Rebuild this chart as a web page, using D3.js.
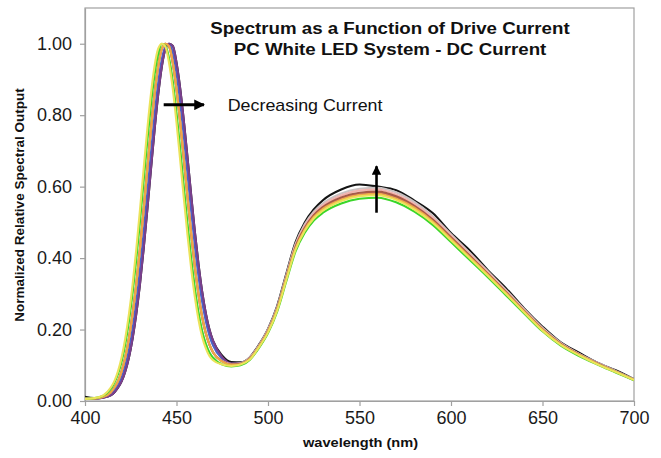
<!DOCTYPE html>
<html>
<head>
<meta charset="utf-8">
<script src="https://cdn.jsdelivr.net/npm/d3@7/dist/d3.min.js"></script>
<style>
  html, body { margin: 0; padding: 0; background: #fff; }
  svg { display: block; }
  text { font-family: "Liberation Sans", Arial, sans-serif; }
</style>
</head>
<body>
<svg id="chart" width="661" height="458"></svg>
<script>
// ---------------- DATA ----------------
const titleLines = ["Spectrum as a Function of Drive Current", "PC White LED System - DC Current"];
const xLabel = "wavelength (nm)";
const yLabel = "Normalized Relative Spectral Output";
const annotationText = "Decreasing Current";
const xTicks = [400, 450, 500, 550, 600, 650, 700];
const yTicks = [0, 0.2, 0.4, 0.6, 0.8, 1.0];

const wavelengths = [400,405,410,414,416,418,420,422,424,426,428,430,432,434,436,438,440,442,444,446,448,450,452,454,456,458,460,462,464,466,468,470,475,480,485,490,495,500,505,510,515,520,525,530,540,550,560,570,580,590,600,610,620,630,640,650,660,670,680,690,700];

const blackSeries = [0.012,0.008,0.010, 0.016,0.024,0.037,0.055,0.083,0.122,0.175,0.243,0.326,0.424,0.533,0.647,0.758,0.858,0.937,0.986,1.000,0.994,0.947,0.875,0.784,0.682,0.577,0.475,0.384,0.307,0.246,0.200,0.168, 0.127,0.109,0.108, 0.122,0.157,0.202,0.266,0.356,0.444,0.499,0.536,0.562,0.592,0.606,0.600,0.590,0.561,0.526,0.470,0.423,0.367,0.316,0.259,0.208,0.164,0.135,0.107,0.086,0.061];
const graySeries = [0.006,0.007,0.012, 0.024,0.037,0.055,0.083,0.122,0.175,0.243,0.326,0.424,0.533,0.647,0.758,0.858,0.937,0.986,1.000,0.992,0.946,0.873,0.781,0.678,0.572,0.470,0.377,0.299,0.236,0.190,0.158,0.136, 0.113,0.104,0.106, 0.121,0.155,0.200,0.263,0.352,0.439,0.494,0.530,0.553,0.581,0.594,0.597,0.584,0.557,0.518,0.467,0.416,0.364,0.311,0.257,0.205,0.163,0.132,0.107,0.084,0.061];
const blueSeries = [0.006,0.006,0.010, 0.019,0.029,0.044,0.066,0.099,0.143,0.202,0.276,0.365,0.468,0.579,0.691,0.798,0.890,0.957,0.992,1.000,0.975,0.917,0.837,0.742,0.638,0.534,0.436,0.350,0.278,0.224,0.183,0.155, 0.118,0.103,0.104, 0.117,0.151,0.194,0.255,0.342,0.426,0.479,0.515,0.538,0.564,0.577,0.580,0.567,0.541,0.503,0.454,0.404,0.354,0.302,0.250,0.199,0.158,0.129,0.104,0.082,0.059];
const purpleSeries = [0.006,0.006,0.009, 0.016,0.024,0.037,0.055,0.083,0.122,0.175,0.243,0.326,0.424,0.533,0.647,0.758,0.858,0.937,0.986,1.000,0.994,0.947,0.875,0.784,0.682,0.577,0.475,0.384,0.307,0.246,0.200,0.168, 0.123,0.105,0.105, 0.118,0.152,0.195,0.256,0.343,0.428,0.482,0.518,0.540,0.567,0.580,0.583,0.570,0.543,0.505,0.456,0.406,0.356,0.303,0.251,0.200,0.159,0.129,0.105,0.082,0.059];
const pinkSeries = [0.006,0.007,0.012, 0.024,0.037,0.055,0.083,0.122,0.175,0.243,0.326,0.424,0.533,0.647,0.758,0.858,0.937,0.986,1.000,0.992,0.946,0.873,0.781,0.678,0.572,0.470,0.377,0.299,0.236,0.190,0.158,0.136, 0.112,0.103,0.105, 0.120,0.154,0.198,0.260,0.348,0.435,0.489,0.525,0.548,0.575,0.589,0.592,0.578,0.551,0.513,0.463,0.412,0.361,0.308,0.255,0.203,0.161,0.131,0.106,0.083,0.060];
const siennaSeries = [0.006,0.007,0.012, 0.024,0.037,0.055,0.083,0.122,0.175,0.243,0.326,0.424,0.533,0.647,0.758,0.858,0.937,0.986,1.000,0.992,0.946,0.873,0.781,0.678,0.572,0.470,0.377,0.299,0.236,0.190,0.158,0.136, 0.111,0.102,0.104, 0.118,0.152,0.196,0.258,0.345,0.431,0.484,0.520,0.543,0.570,0.583,0.586,0.573,0.546,0.508,0.458,0.408,0.357,0.305,0.252,0.201,0.160,0.130,0.105,0.082,0.060];
const orangeSeries = [0.006,0.007,0.012, 0.024,0.037,0.055,0.083,0.122,0.175,0.243,0.326,0.424,0.533,0.647,0.758,0.858,0.937,0.986,1.000,0.992,0.946,0.873,0.781,0.678,0.572,0.470,0.377,0.299,0.236,0.190,0.158,0.136, 0.110,0.101,0.103, 0.117,0.151,0.194,0.255,0.342,0.426,0.479,0.515,0.538,0.564,0.577,0.580,0.567,0.541,0.503,0.454,0.404,0.354,0.302,0.250,0.199,0.158,0.129,0.104,0.082,0.059];
const yellowSeries = [0.006,0.008,0.016, 0.037,0.055,0.083,0.122,0.175,0.243,0.326,0.424,0.533,0.647,0.758,0.858,0.937,0.986,1.000,0.991,0.944,0.872,0.779,0.675,0.568,0.465,0.372,0.292,0.228,0.180,0.148,0.126,0.114, 0.102,0.098,0.102, 0.116,0.150,0.192,0.253,0.339,0.423,0.476,0.511,0.533,0.560,0.573,0.576,0.563,0.536,0.499,0.450,0.401,0.351,0.300,0.248,0.197,0.157,0.128,0.103,0.081,0.059];
const greenSeries = [0.006,0.008,0.015, 0.033,0.050,0.075,0.110,0.159,0.223,0.301,0.395,0.500,0.613,0.725,0.828,0.913,0.971,1.000,0.994,0.958,0.894,0.807,0.707,0.601,0.497,0.401,0.318,0.249,0.197,0.161,0.136,0.121, 0.102,0.097,0.100, 0.115,0.148,0.190,0.250,0.335,0.418,0.470,0.505,0.527,0.553,0.566,0.569,0.556,0.530,0.493,0.445,0.396,0.347,0.296,0.245,0.195,0.155,0.126,0.102,0.080,0.058];

// drawing order: first = bottom
const seriesNames = ["black", "gray", "blue", "purple", "pink", "sienna", "orange", "green", "yellow"];
const seriesValues = [blackSeries, graySeries, blueSeries, purpleSeries, pinkSeries, siennaSeries, orangeSeries, greenSeries, yellowSeries];
const seriesColors = ["#141414", "#c9c2c2", "#4a63c8", "#7a3f8c", "#f2b2ad", "#a85a48", "#f0a848", "#3ad62a", "#ece35a"];

// ---------------- LAYOUT ----------------
const svg = d3.select("#chart");
const W = 661, H = 458;
const plot = { left: 85, right: 634, top: 8, bottom: 401 };
const fontFam = '"Liberation Sans", Arial, sans-serif';

const x = d3.scaleLinear().domain([400, 700]).range([plot.left, plot.right]);
const y = d3.scaleLinear().domain([0, 1.1]).range([plot.bottom, plot.top]);

svg.append("rect").attr("width", W).attr("height", H).attr("fill", "#fff");

// frame
svg.append("rect")
  .attr("x", plot.left).attr("y", plot.top)
  .attr("width", plot.right - plot.left).attr("height", plot.bottom - plot.top)
  .attr("fill", "none").attr("stroke", "#a0a0a0").attr("stroke-width", 1.2);

// axes
const yAxis = svg.append("g").attr("transform", `translate(${plot.left},0)`)
  .call(d3.axisLeft(y).tickValues(yTicks).tickFormat(d3.format(".2f")).tickSize(5).tickSizeOuter(0).tickPadding(8));
const xAxis = svg.append("g").attr("transform", `translate(0,${plot.bottom})`)
  .call(d3.axisBottom(x).tickValues(xTicks).tickFormat(d3.format("d")).tickSize(5).tickSizeOuter(0).tickPadding(5));
[yAxis, xAxis].forEach(a => {
  a.select(".domain").attr("stroke", "#a0a0a0").attr("stroke-width", 1.2);
  a.selectAll(".tick line").attr("stroke", "#a0a0a0").attr("stroke-width", 1.2);
  a.selectAll(".tick text").attr("fill", "#1a1a1a").style("font-size", "18px").style("font-family", fontFam);
});

// series lines
const line = d3.line()
  .x((d, i) => x(wavelengths[i]))
  .y(d => y(d))
  .curve(d3.curveMonotoneX);

svg.append("clipPath").attr("id", "clip").append("rect")
  .attr("x", plot.left).attr("y", plot.top)
  .attr("width", plot.right - plot.left).attr("height", plot.bottom - plot.top + 2);

svg.append("g").attr("clip-path", "url(#clip)")
  .selectAll("path").data(seriesValues).join("path")
  .attr("d", d => line(d))
  .attr("fill", "none")
  .attr("stroke", (d, i) => seriesColors[i])
  .attr("stroke-width", 2.1)
  .attr("stroke-linejoin", "round");

// text helper with horizontal stretch
function addText(tx, ty, str, size, weight, anchor, sx) {
  return svg.append("text")
    .attr("transform", `translate(${tx},${ty}) scale(${sx},1)`)
    .attr("text-anchor", anchor)
    .style("font-size", size + "px")
    .style("font-weight", weight)
    .style("font-family", fontFam)
    .attr("fill", "#111")
    .text(str);
}

// title
addText(390, 34, titleLines[0], 17, "bold", "middle", 1.1);
addText(390, 55, titleLines[1], 17, "bold", "middle", 1.1);

// axis titles
addText((plot.left + plot.right) / 2 + 1, 447, xLabel, 13.5, "bold", "middle", 1.08);
svg.append("text")
  .attr("transform", `translate(24,${205}) rotate(-90)`)
  .attr("text-anchor", "middle")
  .style("font-size", "13.5px").style("font-weight", "bold").style("font-family", fontFam)
  .attr("fill", "#111")
  .text(yLabel);

// annotation: horizontal arrow + text
const defs = svg.append("defs");
defs.append("marker").attr("id", "ah").attr("viewBox", "0 0 10 10")
  .attr("refX", 9).attr("refY", 5).attr("markerWidth", 3.6).attr("markerHeight", 3.6)
  .attr("markerUnits", "strokeWidth").attr("orient", "auto")
  .append("path").attr("d", "M0,0 L10,5 L0,10 Z").attr("fill", "#000");

svg.append("line")
  .attr("x1", x(443)).attr("y1", y(0.829))
  .attr("x2", x(465)).attr("y2", y(0.829))
  .attr("stroke", "#000").attr("stroke-width", 3)
  .attr("marker-end", "url(#ah)");
addText(x(478), y(0.812), annotationText, 17, "normal", "start", 1.05);

// vertical arrow
svg.append("line")
  .attr("x1", x(559.3)).attr("y1", y(0.527))
  .attr("x2", x(559.3)).attr("y2", y(0.657))
  .attr("stroke", "#000").attr("stroke-width", 2.6)
  .attr("marker-end", "url(#ah)");
</script>
</body>
</html>
